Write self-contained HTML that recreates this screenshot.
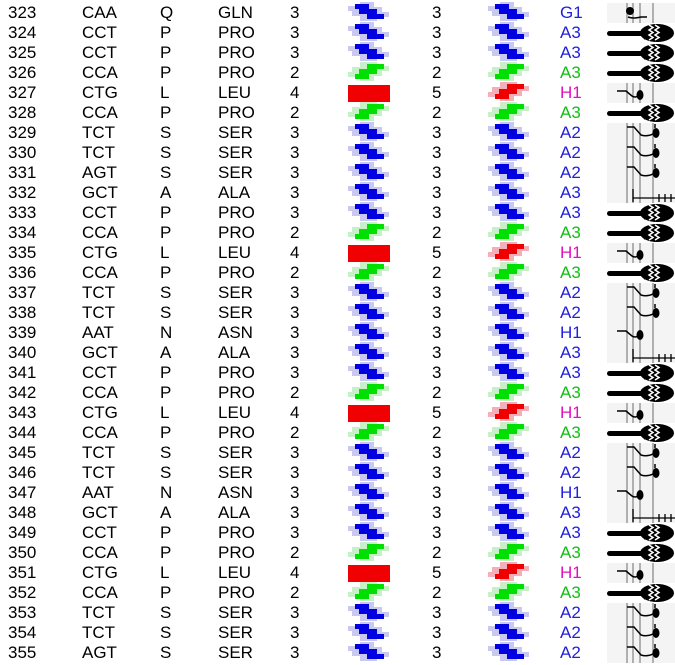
<!DOCTYPE html>
<html><head><meta charset="utf-8"><style>
body{margin:0;width:675px;height:665px;background:#fff;overflow:hidden;position:relative;font-family:"Liberation Sans",Arial,sans-serif;font-size:17px;}
.r{position:absolute;left:0;height:20px;line-height:20px;width:675px}
.r span{position:absolute;top:0;white-space:nowrap}
.a{left:8px}.b{left:82px}.c{left:160px}.d{left:218px}.e{left:290px}.f{left:432px}.g{left:560px}
.bl{color:#2020e0}.gr{color:#10c010}.mg{color:#e010c0}
svg{position:absolute;left:0;top:0}
</style></head><body>
<svg width="675" height="665" viewBox="0 0 675 665">
<defs>
<path id="st" d="M8,0H22V5H30V10H37V15H20V10H12V5H8Z"/>
<g id="B" transform="translate(0,1)"><use href="#st" x="-7" y="2" fill="#c8c8f0"/><use href="#st" x="5" y="-2" fill="#c8c8f0"/><use href="#st" fill="#0000e0"/></g>
<g id="G" transform="translate(0,16) scale(1,-1)"><use href="#st" x="-7" y="2" fill="#c8f0c8"/><use href="#st" x="5" y="-2" fill="#c8f0c8"/><use href="#st" fill="#00e000"/></g>
<rect id="R" x="0" y="2" width="42" height="17" fill="#f00000"/>
<g id="R2" transform="translate(0,16) scale(1,-1)"><use href="#st" x="-7" y="2" fill="#f4b0b8"/><use href="#st" x="5" y="-2" fill="#f4b0b8"/><use href="#st" fill="#f00000"/></g>
<g id="M"><rect x="2" y="8" width="36" height="5" rx="2.5" fill="#000"/><path d="M34,10.5 L40,4 L40,17 Z" fill="#000"/><ellipse cx="52" cy="10" rx="17" ry="9" fill="#000"/><path d="M44,2 l4,2.5 -4,2.5 4,2.5 -4,2.5 4,2.5 -4,2.5 M50,2 l4,2.5 -4,2.5 4,2.5 -4,2.5 4,2.5 -4,2.5" fill="none" stroke="#fff" stroke-width="1.5"/></g>
<g id="NB"><rect x="2" y="0" width="68" height="20" fill="#f4f4f4"/><path d="M22,0V20M28,0V20M35,0V20M48,0V20" stroke="#999" stroke-width="1.5"/></g>
<g id="A2"><use href="#NB"/><path d="M22,4H29L36,12Q42,14 48,11" fill="none" stroke="#000" stroke-width="1.5"/><ellipse cx="51" cy="10" rx="3.5" ry="5" fill="#000"/><path d="M50,5V1" stroke="#000" stroke-width="1.5"/></g>
<g id="H"><use href="#NB"/><path d="M12,8H21L27,13Q30,15 33,13" fill="none" stroke="#000" stroke-width="1.5"/><ellipse cx="35" cy="12" rx="3.5" ry="5" fill="#000"/></g>
<g id="A3"><use href="#NB"/><path d="M28,6V19M28,15H70M54,11V19M60,11V19M66,11V19" fill="none" stroke="#000" stroke-width="1.3"/></g>
<g id="G1"><use href="#NB"/><ellipse cx="25" cy="8" rx="4" ry="4" fill="#000"/><path d="M23,14Q28,16 36,14H42" fill="none" stroke="#000" stroke-width="1.5"/></g>
</defs>
<g transform="translate(0,3)"><use href="#B" x="347"/><use href="#B" x="487"/><use href="#G1" x="605"/></g>
<g transform="translate(0,23)"><use href="#B" x="347"/><use href="#B" x="487"/><use href="#M" x="605"/></g>
<g transform="translate(0,43)"><use href="#B" x="347"/><use href="#B" x="487"/><use href="#M" x="605"/></g>
<g transform="translate(0,63)"><use href="#G" x="347"/><use href="#G" x="487"/><use href="#M" x="605"/></g>
<g transform="translate(0,83)"><use href="#R" x="348"/><use href="#R2" x="487"/><use href="#H" x="605"/></g>
<g transform="translate(0,103)"><use href="#G" x="347"/><use href="#G" x="487"/><use href="#M" x="605"/></g>
<g transform="translate(0,123)"><use href="#B" x="347"/><use href="#B" x="487"/><use href="#A2" x="605"/></g>
<g transform="translate(0,143)"><use href="#B" x="347"/><use href="#B" x="487"/><use href="#A2" x="605"/></g>
<g transform="translate(0,163)"><use href="#B" x="347"/><use href="#B" x="487"/><use href="#A2" x="605"/></g>
<g transform="translate(0,183)"><use href="#B" x="347"/><use href="#B" x="487"/><use href="#A3" x="605"/></g>
<g transform="translate(0,203)"><use href="#B" x="347"/><use href="#B" x="487"/><use href="#M" x="605"/></g>
<g transform="translate(0,223)"><use href="#G" x="347"/><use href="#G" x="487"/><use href="#M" x="605"/></g>
<g transform="translate(0,243)"><use href="#R" x="348"/><use href="#R2" x="487"/><use href="#H" x="605"/></g>
<g transform="translate(0,263)"><use href="#G" x="347"/><use href="#G" x="487"/><use href="#M" x="605"/></g>
<g transform="translate(0,283)"><use href="#B" x="347"/><use href="#B" x="487"/><use href="#A2" x="605"/></g>
<g transform="translate(0,303)"><use href="#B" x="347"/><use href="#B" x="487"/><use href="#A2" x="605"/></g>
<g transform="translate(0,323)"><use href="#B" x="347"/><use href="#B" x="487"/><use href="#H" x="605"/></g>
<g transform="translate(0,343)"><use href="#B" x="347"/><use href="#B" x="487"/><use href="#A3" x="605"/></g>
<g transform="translate(0,363)"><use href="#B" x="347"/><use href="#B" x="487"/><use href="#M" x="605"/></g>
<g transform="translate(0,383)"><use href="#G" x="347"/><use href="#G" x="487"/><use href="#M" x="605"/></g>
<g transform="translate(0,403)"><use href="#R" x="348"/><use href="#R2" x="487"/><use href="#H" x="605"/></g>
<g transform="translate(0,423)"><use href="#G" x="347"/><use href="#G" x="487"/><use href="#M" x="605"/></g>
<g transform="translate(0,443)"><use href="#B" x="347"/><use href="#B" x="487"/><use href="#A2" x="605"/></g>
<g transform="translate(0,463)"><use href="#B" x="347"/><use href="#B" x="487"/><use href="#A2" x="605"/></g>
<g transform="translate(0,483)"><use href="#B" x="347"/><use href="#B" x="487"/><use href="#H" x="605"/></g>
<g transform="translate(0,503)"><use href="#B" x="347"/><use href="#B" x="487"/><use href="#A3" x="605"/></g>
<g transform="translate(0,523)"><use href="#B" x="347"/><use href="#B" x="487"/><use href="#M" x="605"/></g>
<g transform="translate(0,543)"><use href="#G" x="347"/><use href="#G" x="487"/><use href="#M" x="605"/></g>
<g transform="translate(0,563)"><use href="#R" x="348"/><use href="#R2" x="487"/><use href="#H" x="605"/></g>
<g transform="translate(0,583)"><use href="#G" x="347"/><use href="#G" x="487"/><use href="#M" x="605"/></g>
<g transform="translate(0,603)"><use href="#B" x="347"/><use href="#B" x="487"/><use href="#A2" x="605"/></g>
<g transform="translate(0,623)"><use href="#B" x="347"/><use href="#B" x="487"/><use href="#A2" x="605"/></g>
<g transform="translate(0,643)"><use href="#B" x="347"/><use href="#B" x="487"/><use href="#A2" x="605"/></g>
</svg>
<div class="r" style="top:3px"><span class="a">323</span><span class="b">CAA</span><span class="c">Q</span><span class="d">GLN</span><span class="e">3</span><span class="f">3</span><span class="g bl">G1</span></div>
<div class="r" style="top:23px"><span class="a">324</span><span class="b">CCT</span><span class="c">P</span><span class="d">PRO</span><span class="e">3</span><span class="f">3</span><span class="g bl">A3</span></div>
<div class="r" style="top:43px"><span class="a">325</span><span class="b">CCT</span><span class="c">P</span><span class="d">PRO</span><span class="e">3</span><span class="f">3</span><span class="g bl">A3</span></div>
<div class="r" style="top:63px"><span class="a">326</span><span class="b">CCA</span><span class="c">P</span><span class="d">PRO</span><span class="e">2</span><span class="f">2</span><span class="g gr">A3</span></div>
<div class="r" style="top:83px"><span class="a">327</span><span class="b">CTG</span><span class="c">L</span><span class="d">LEU</span><span class="e">4</span><span class="f">5</span><span class="g mg">H1</span></div>
<div class="r" style="top:103px"><span class="a">328</span><span class="b">CCA</span><span class="c">P</span><span class="d">PRO</span><span class="e">2</span><span class="f">2</span><span class="g gr">A3</span></div>
<div class="r" style="top:123px"><span class="a">329</span><span class="b">TCT</span><span class="c">S</span><span class="d">SER</span><span class="e">3</span><span class="f">3</span><span class="g bl">A2</span></div>
<div class="r" style="top:143px"><span class="a">330</span><span class="b">TCT</span><span class="c">S</span><span class="d">SER</span><span class="e">3</span><span class="f">3</span><span class="g bl">A2</span></div>
<div class="r" style="top:163px"><span class="a">331</span><span class="b">AGT</span><span class="c">S</span><span class="d">SER</span><span class="e">3</span><span class="f">3</span><span class="g bl">A2</span></div>
<div class="r" style="top:183px"><span class="a">332</span><span class="b">GCT</span><span class="c">A</span><span class="d">ALA</span><span class="e">3</span><span class="f">3</span><span class="g bl">A3</span></div>
<div class="r" style="top:203px"><span class="a">333</span><span class="b">CCT</span><span class="c">P</span><span class="d">PRO</span><span class="e">3</span><span class="f">3</span><span class="g bl">A3</span></div>
<div class="r" style="top:223px"><span class="a">334</span><span class="b">CCA</span><span class="c">P</span><span class="d">PRO</span><span class="e">2</span><span class="f">2</span><span class="g gr">A3</span></div>
<div class="r" style="top:243px"><span class="a">335</span><span class="b">CTG</span><span class="c">L</span><span class="d">LEU</span><span class="e">4</span><span class="f">5</span><span class="g mg">H1</span></div>
<div class="r" style="top:263px"><span class="a">336</span><span class="b">CCA</span><span class="c">P</span><span class="d">PRO</span><span class="e">2</span><span class="f">2</span><span class="g gr">A3</span></div>
<div class="r" style="top:283px"><span class="a">337</span><span class="b">TCT</span><span class="c">S</span><span class="d">SER</span><span class="e">3</span><span class="f">3</span><span class="g bl">A2</span></div>
<div class="r" style="top:303px"><span class="a">338</span><span class="b">TCT</span><span class="c">S</span><span class="d">SER</span><span class="e">3</span><span class="f">3</span><span class="g bl">A2</span></div>
<div class="r" style="top:323px"><span class="a">339</span><span class="b">AAT</span><span class="c">N</span><span class="d">ASN</span><span class="e">3</span><span class="f">3</span><span class="g bl">H1</span></div>
<div class="r" style="top:343px"><span class="a">340</span><span class="b">GCT</span><span class="c">A</span><span class="d">ALA</span><span class="e">3</span><span class="f">3</span><span class="g bl">A3</span></div>
<div class="r" style="top:363px"><span class="a">341</span><span class="b">CCT</span><span class="c">P</span><span class="d">PRO</span><span class="e">3</span><span class="f">3</span><span class="g bl">A3</span></div>
<div class="r" style="top:383px"><span class="a">342</span><span class="b">CCA</span><span class="c">P</span><span class="d">PRO</span><span class="e">2</span><span class="f">2</span><span class="g gr">A3</span></div>
<div class="r" style="top:403px"><span class="a">343</span><span class="b">CTG</span><span class="c">L</span><span class="d">LEU</span><span class="e">4</span><span class="f">5</span><span class="g mg">H1</span></div>
<div class="r" style="top:423px"><span class="a">344</span><span class="b">CCA</span><span class="c">P</span><span class="d">PRO</span><span class="e">2</span><span class="f">2</span><span class="g gr">A3</span></div>
<div class="r" style="top:443px"><span class="a">345</span><span class="b">TCT</span><span class="c">S</span><span class="d">SER</span><span class="e">3</span><span class="f">3</span><span class="g bl">A2</span></div>
<div class="r" style="top:463px"><span class="a">346</span><span class="b">TCT</span><span class="c">S</span><span class="d">SER</span><span class="e">3</span><span class="f">3</span><span class="g bl">A2</span></div>
<div class="r" style="top:483px"><span class="a">347</span><span class="b">AAT</span><span class="c">N</span><span class="d">ASN</span><span class="e">3</span><span class="f">3</span><span class="g bl">H1</span></div>
<div class="r" style="top:503px"><span class="a">348</span><span class="b">GCT</span><span class="c">A</span><span class="d">ALA</span><span class="e">3</span><span class="f">3</span><span class="g bl">A3</span></div>
<div class="r" style="top:523px"><span class="a">349</span><span class="b">CCT</span><span class="c">P</span><span class="d">PRO</span><span class="e">3</span><span class="f">3</span><span class="g bl">A3</span></div>
<div class="r" style="top:543px"><span class="a">350</span><span class="b">CCA</span><span class="c">P</span><span class="d">PRO</span><span class="e">2</span><span class="f">2</span><span class="g gr">A3</span></div>
<div class="r" style="top:563px"><span class="a">351</span><span class="b">CTG</span><span class="c">L</span><span class="d">LEU</span><span class="e">4</span><span class="f">5</span><span class="g mg">H1</span></div>
<div class="r" style="top:583px"><span class="a">352</span><span class="b">CCA</span><span class="c">P</span><span class="d">PRO</span><span class="e">2</span><span class="f">2</span><span class="g gr">A3</span></div>
<div class="r" style="top:603px"><span class="a">353</span><span class="b">TCT</span><span class="c">S</span><span class="d">SER</span><span class="e">3</span><span class="f">3</span><span class="g bl">A2</span></div>
<div class="r" style="top:623px"><span class="a">354</span><span class="b">TCT</span><span class="c">S</span><span class="d">SER</span><span class="e">3</span><span class="f">3</span><span class="g bl">A2</span></div>
<div class="r" style="top:643px"><span class="a">355</span><span class="b">AGT</span><span class="c">S</span><span class="d">SER</span><span class="e">3</span><span class="f">3</span><span class="g bl">A2</span></div>
</body></html>
